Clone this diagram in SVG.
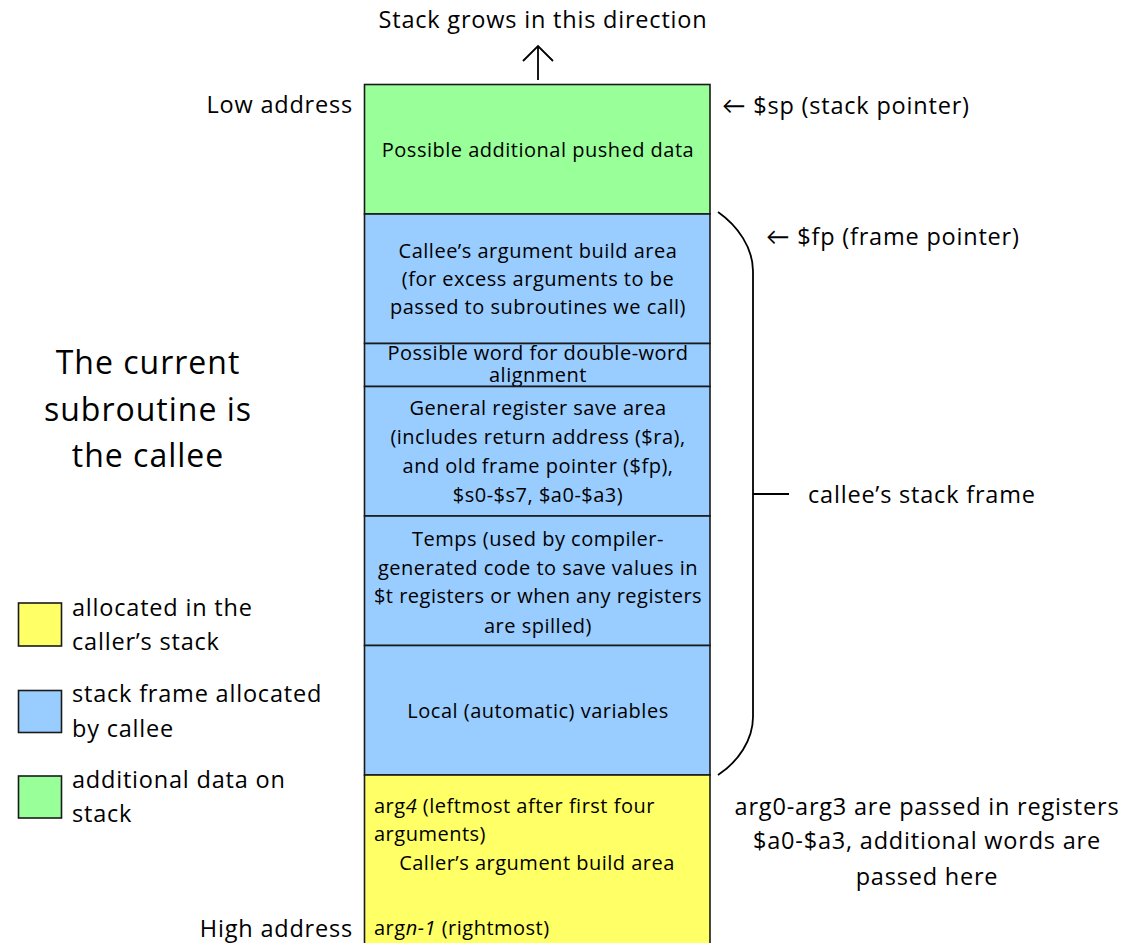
<svg xmlns="http://www.w3.org/2000/svg" width="1125" height="943" viewBox="0 0 1125 943">
<style>
text{font-family:"Open Sans",Lato,"Liberation Sans",sans-serif;fill:#000}
.box{stroke:#1a1a1a;stroke-width:1.6}
.g{fill:#99ff99}.b{fill:#99ccff}.y{fill:#ffff66}
.bt{font-size:20px;letter-spacing:0.5px;text-anchor:middle}
.lt{font-size:20px;letter-spacing:0.5px}
.big{font-size:23.5px;letter-spacing:0.8px}
.huge{font-size:32px;letter-spacing:1px;text-anchor:middle}
.c{text-anchor:middle}.r{text-anchor:end}
.ln{fill:none;stroke:#000;stroke-width:1.8}
</style>
<rect width="1125" height="943" fill="#fff"/>

<text class="big c" x="543" y="28">Stack grows in this direction</text>

<g id="legend">
<g id="legend-yellow"><rect class="box y" x="18.5" y="603" width="43" height="43"/><text class="big" x="72" y="616">allocated in the</text><text class="big" x="72" y="650">caller’s stack</text></g>
<g id="legend-blue"><rect class="box b" x="18.5" y="690.5" width="43" height="42"/><text class="big" x="72" y="702">stack frame allocated</text><text class="big" x="72" y="737">by callee</text></g>
<g id="legend-green"><rect class="box g" x="18.5" y="776" width="43" height="42"/><text class="big" x="72" y="788">additional data on</text><text class="big" x="72" y="822">stack</text></g>
</g>

<g id="current-note">
<text class="huge" x="148" y="374">The current</text>
<text class="huge" x="148" y="421">subroutine is</text>
<text class="huge" x="148" y="467">the callee</text>
</g>

<g id="address-labels">
<text class="big r" x="353" y="113">Low address</text>
<text class="big r" x="353" y="937">High address</text>
</g>

<g id="pushed-data"><rect class="box g" x="364.5" y="84.5" width="345.5" height="129.5"/><text class="bt" x="538" y="157">Possible additional pushed data</text></g>

<g id="callee-arg-area"><rect class="box b" x="364.5" y="214" width="345.5" height="129.5"/>
<text class="bt" x="538" y="258">Callee’s argument build area</text>
<text class="bt" x="538" y="286">(for excess arguments to be</text>
<text class="bt" x="538" y="314">passed to subroutines we call)</text></g>

<g id="alignment-word"><rect class="box b" x="364.5" y="343.5" width="345.5" height="43"/>
<text class="bt" x="538" y="360">Possible word for double-word</text>
<text class="bt" x="538" y="382">alignment</text></g>

<g id="register-save"><rect class="box b" x="364.5" y="386.5" width="345.5" height="129.5"/>
<text class="bt" x="538" y="415">General register save area</text>
<text class="bt" x="538" y="444">(includes return address ($ra),</text>
<text class="bt" x="538" y="473">and old frame pointer ($fp),</text>
<text class="bt" x="538" y="502">$s0-$s7, $a0-$a3)</text></g>

<g id="temps"><rect class="box b" x="364.5" y="516" width="345.5" height="129.5"/>
<text class="bt" x="538" y="546">Temps (used by compiler-</text>
<text class="bt" x="538" y="575">generated code to save values in</text>
<text class="bt" x="538" y="603">$t registers or when any registers</text>
<text class="bt" x="538" y="633">are spilled)</text></g>

<g id="locals"><rect class="box b" x="364.5" y="645.5" width="345.5" height="129.5"/>
<text class="bt" x="538" y="718">Local (automatic) variables</text></g>

<g id="caller-arg-area"><rect class="box y" x="364.5" y="775" width="345.5" height="175"/>
<text class="lt" x="374" y="813">arg<tspan font-style="italic">4</tspan> (leftmost after first four</text>
<text class="lt" x="374" y="841">arguments)</text>
<text class="bt" x="537" y="870">Caller’s argument build area</text>
<text class="lt" x="374" y="935">arg<tspan font-style="italic">n-1</tspan> (rightmost)</text></g>

<g id="pointers">
<text class="big" x="722" y="114">← $sp (stack pointer)</text>
<text class="big" x="766" y="245">← $fp (frame pointer)</text>
<text class="big" x="808" y="503">callee’s stack frame</text>
<text class="big c" x="927" y="815">arg0-arg3 are passed in registers</text>
<text class="big c" x="927" y="849">$a0-$a3, additional words are</text>
<text class="big c" x="927" y="885">passed here</text>
</g>

<g id="connectors">
<path class="ln" d="M538 80 V46 M523 61 L538 46 L553 61"/>
<path class="ln" d="M718 212 C738 226 753 248 753 271 V717 C753 740 738 762 718 775"/>
<path class="ln" d="M753 494 H789"/>
</g>
</svg>
